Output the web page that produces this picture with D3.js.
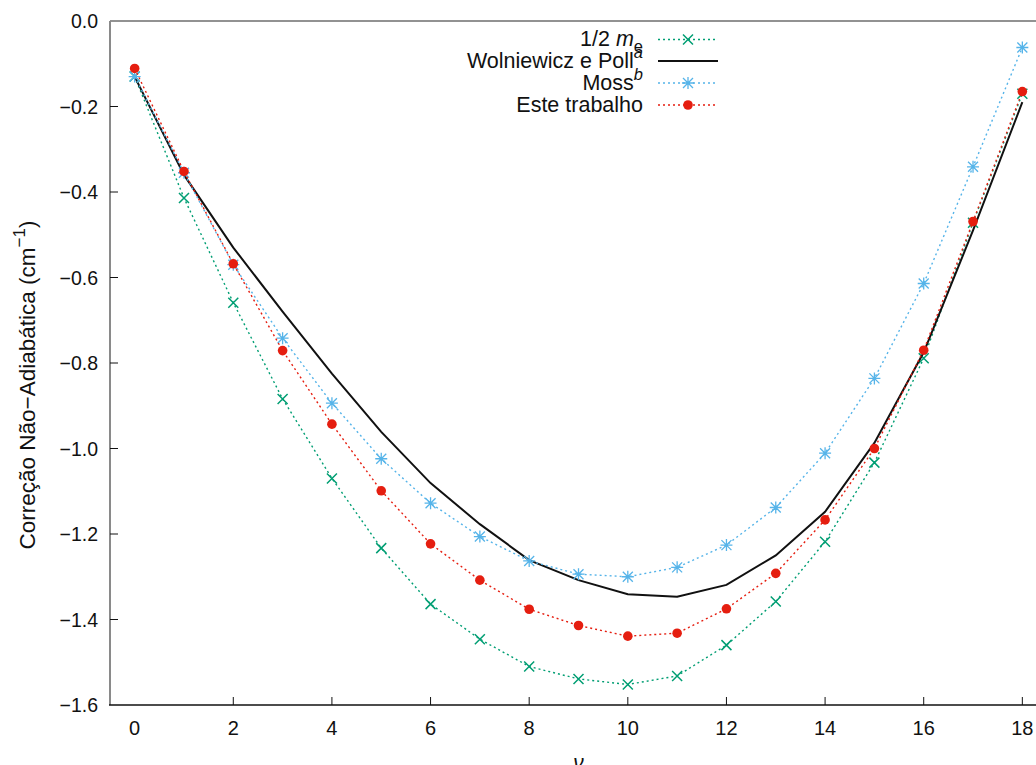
<!DOCTYPE html>
<html>
<head>
<meta charset="utf-8">
<script src="https://cdn.jsdelivr.net/npm/d3@7"></script>
<style>
  html, body { margin: 0; padding: 0; background: #fff; }
  svg { display: block; }
  text { font-family: "Liberation Sans", Arial, Helvetica, sans-serif; }
</style>
</head>
<body>
<svg id="chart" width="1036" height="765"></svg>
<script>
// ---- data ----
const levels = [0,1,2,3,4,5,6,7,8,9,10,11,12,13,14,15,16,17,18];
const halfMe = [-0.130,-0.414,-0.659,-0.884,-1.070,-1.233,-1.364,-1.446,-1.510,-1.539,-1.552,-1.532,-1.460,-1.358,-1.218,-1.033,-0.789,-0.472,-0.170];
const wolniewiczPoll = [-0.130,-0.360,-0.530,-0.680,-0.825,-0.961,-1.081,-1.177,-1.261,-1.308,-1.341,-1.347,-1.319,-1.250,-1.148,-0.987,-0.775,-0.490,-0.190];
const moss = [-0.130,-0.355,-0.570,-0.742,-0.894,-1.024,-1.128,-1.206,-1.263,-1.294,-1.300,-1.278,-1.226,-1.138,-1.011,-0.836,-0.614,-0.341,-0.062];
const esteTrabalho = [-0.111,-0.352,-0.568,-0.771,-0.943,-1.099,-1.223,-1.308,-1.376,-1.414,-1.439,-1.432,-1.375,-1.292,-1.167,-1.000,-0.770,-0.469,-0.165];
const xTicks = [2,4,6,8,10,12,14,16,18];
const xTickLabels = [0,2,4,6,8,10,12,14,16,18];
const yTicks = [0.0,-0.2,-0.4,-0.6,-0.8,-1.0,-1.2,-1.4,-1.6];

(function () {
const svg = d3.select("#chart");
const pL = 110, pR = 1047, pT = 21, pB = 705;
const x = d3.scaleLinear().domain([-0.5, 18.5]).range([pL, pR]);
const y = d3.scaleLinear().domain([-1.6, 0]).range([pB, pT]);
const fmt = d3.format(".1f");

// frame
svg.append("line").attr("x1", pL).attr("x2", 1036).attr("y1", pT).attr("y2", pT)
  .attr("stroke", "#6e6e6e").attr("stroke-width", 1.5);
svg.append("line").attr("x1", pL).attr("x2", pL).attr("y1", pT).attr("y2", pB)
  .attr("stroke", "#8a8a8a").attr("stroke-width", 2);
svg.append("line").attr("x1", pL - 1).attr("x2", 1036).attr("y1", pB).attr("y2", pB)
  .attr("stroke", "#111").attr("stroke-width", 1.5);

// y ticks (inward)
svg.append("g").selectAll("line").data(yTicks.filter(d => d < 0 && d > -1.6)).join("line")
  .attr("x1", pL).attr("x2", pL + 8)
  .attr("y1", d => y(d)).attr("y2", d => y(d))
  .attr("stroke", "#111").attr("stroke-width", 1);
svg.append("g").selectAll("text").data(yTicks).join("text")
  .attr("x", 98).attr("y", d => y(d)).attr("dy", "0.36em")
  .attr("text-anchor", "end").attr("font-size", 19.5).attr("fill", "#111")
  .text(d => fmt(d));

// x ticks (inward)
svg.append("g").selectAll("line").data(xTicks).join("line")
  .attr("x1", d => x(d)).attr("x2", d => x(d))
  .attr("y1", pB).attr("y2", pB - 8)
  .attr("stroke", "#111").attr("stroke-width", 1);
svg.append("g").selectAll("text").data(xTickLabels).join("text")
  .attr("x", d => x(d)).attr("y", 735)
  .attr("text-anchor", "middle").attr("font-size", 20).attr("fill", "#111")
  .text(d => d);

// axis labels
const yl = svg.append("text")
  .attr("transform", "translate(35,385) rotate(-90)")
  .attr("text-anchor", "middle").attr("font-size", 22.5).attr("fill", "#111");
yl.append("tspan").text("Correção Não−Adiabática (cm");
yl.append("tspan").attr("dy", -10).attr("font-size", 17).text("−1");
yl.append("tspan").attr("dy", 10).text(")");

svg.append("text").attr("x", x(9)).attr("y", 769)
  .attr("text-anchor", "middle").attr("font-size", 21)
  .attr("font-family", "'DejaVu Serif', 'Liberation Serif', serif")
  .attr("font-style", "italic").attr("fill", "#111").text("ν");

// series
const series = [
  { name: "halfMe", values: halfMe, color: "#009e73", dash: "2,3", width: 1.4, marker: "x" },
  { name: "wp", values: wolniewiczPoll, color: "#111111", dash: null, width: 2, marker: null },
  { name: "moss", values: moss, color: "#56b4e9", dash: "2,3", width: 1.4, marker: "star" },
  { name: "este", values: esteTrabalho, color: "#e51e10", dash: "2,3", width: 1.4, marker: "dot" }
];

const line = d3.line().x((d, i) => x(levels[i])).y(d => y(d));

function drawMarker(g, type, cx, cy, color) {
  const s = 5;
  if (type === "x") {
    g.append("path").attr("d", `M${cx-s},${cy-s}L${cx+s},${cy+s}M${cx-s},${cy+s}L${cx+s},${cy-s}`)
      .attr("stroke", color).attr("stroke-width", 1.5).attr("fill", "none");
  } else if (type === "star") {
    g.append("path").attr("d", `M${cx-s},${cy-s}L${cx+s},${cy+s}M${cx-s},${cy+s}L${cx+s},${cy-s}M${cx-s-1},${cy}L${cx+s+1},${cy}M${cx},${cy-s-1}L${cx},${cy+s+1}`)
      .attr("stroke", color).attr("stroke-width", 1.3).attr("fill", "none");
  } else if (type === "dot") {
    g.append("circle").attr("cx", cx).attr("cy", cy).attr("r", 4.8).attr("fill", color);
  }
}

const plot = svg.append("g");
series.forEach(s => {
  const g = plot.append("g");
  g.append("path").datum(s.values).attr("d", line)
    .attr("fill", "none").attr("stroke", s.color).attr("stroke-width", s.width)
    .attr("stroke-dasharray", s.dash);
  if (s.marker) {
    s.values.forEach((v, i) => drawMarker(g, s.marker, x(levels[i]), y(v), s.color));
  }
});

// legend
const legendRows = [
  { idx: 0, baseline: 46 },
  { idx: 1, baseline: 67.5 },
  { idx: 2, baseline: 89.5 },
  { idx: 3, baseline: 111.5 }
];
const lg = svg.append("g");
legendRows.forEach(r => {
  const s = series[r.idx];
  const ly = r.baseline - 6.5;
  lg.append("line").attr("x1", 658).attr("x2", 718).attr("y1", ly).attr("y2", ly)
    .attr("stroke", s.color).attr("stroke-width", s.width).attr("stroke-dasharray", s.dash);
  if (s.marker) drawMarker(lg, s.marker, 688, ly, s.color);
  const t = lg.append("text").attr("x", 643).attr("y", r.baseline)
    .attr("text-anchor", "end").attr("font-size", 21.5).attr("fill", "#111");
  if (r.idx === 0) {
    t.append("tspan").text("1/2 ");
    t.append("tspan").attr("font-style", "italic").text("m");
    t.append("tspan").attr("dy", 6).attr("font-size", 16.5).text("e");
  } else if (r.idx === 1) {
    t.append("tspan").text("Wolniewicz e Poll");
    t.append("tspan").attr("dy", -10).attr("font-size", 16.5).attr("font-style", "italic").text("a");
  } else if (r.idx === 2) {
    t.append("tspan").text("Moss");
    t.append("tspan").attr("dy", -10).attr("font-size", 16.5).attr("font-style", "italic").text("b");
  } else {
    t.append("tspan").text("Este trabalho");
  }
});
})();
</script>
</body>
</html>
